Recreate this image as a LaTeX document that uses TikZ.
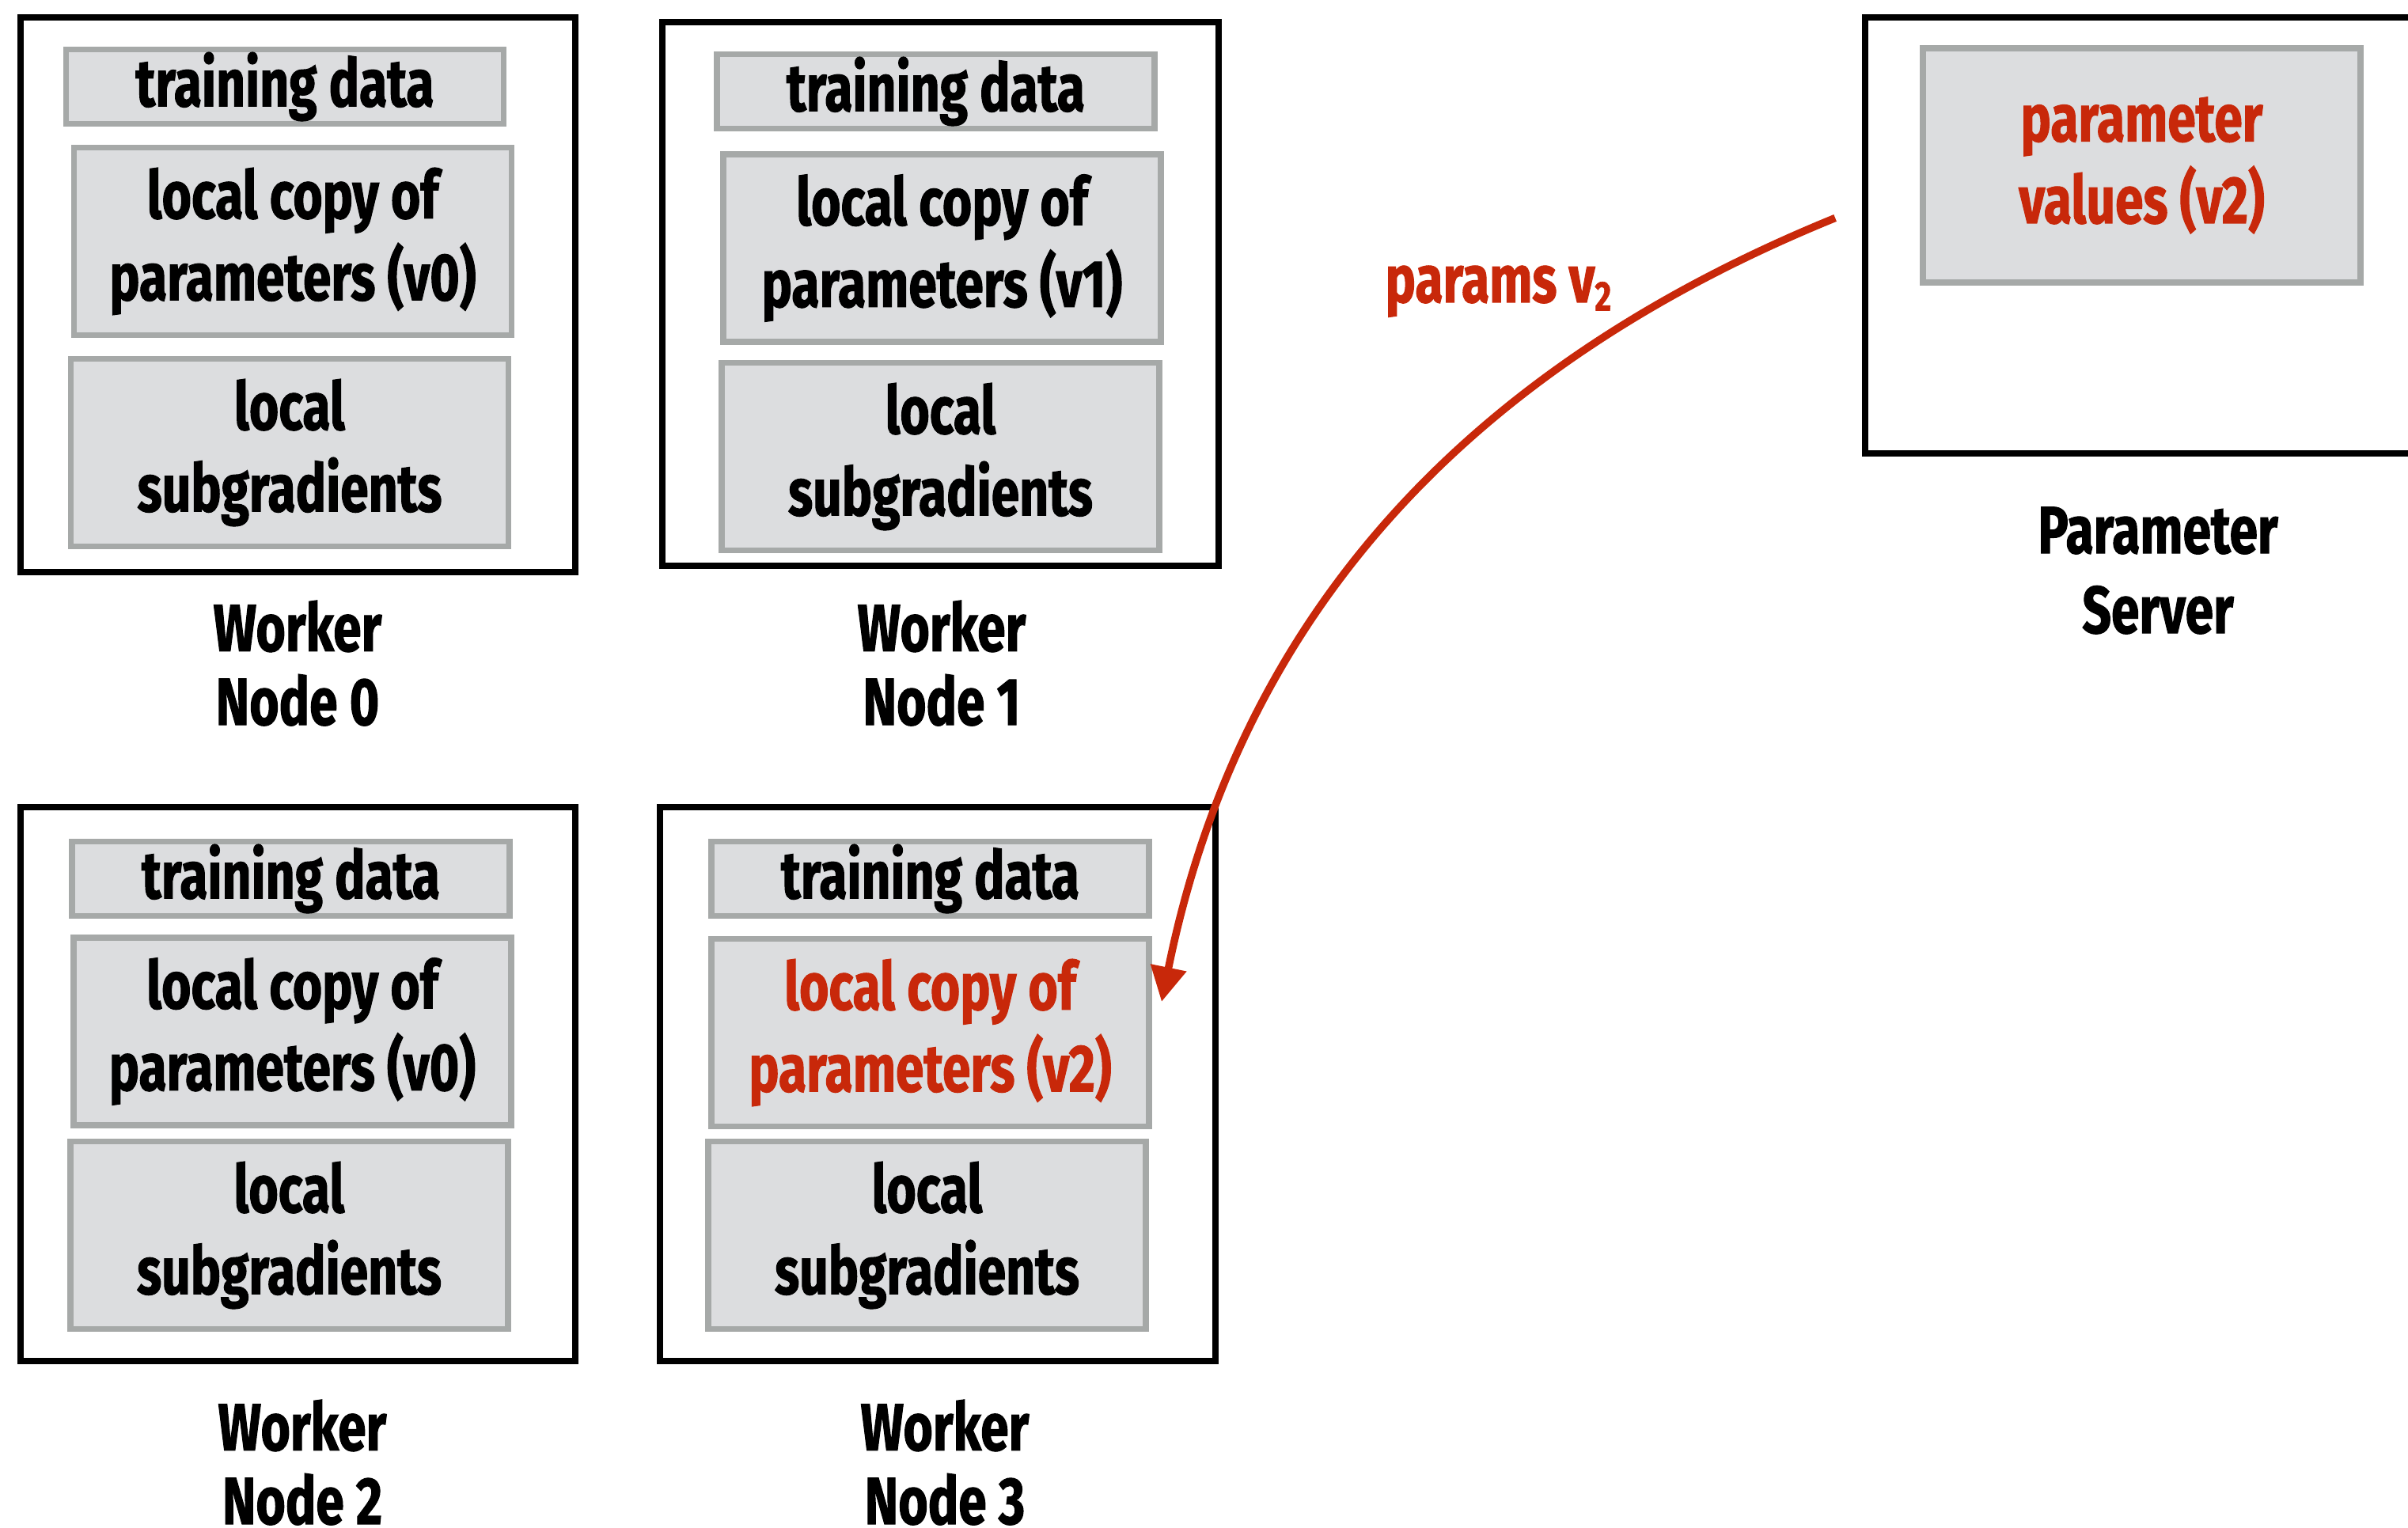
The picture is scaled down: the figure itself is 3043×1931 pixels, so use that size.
\documentclass[tikz,border=0pt]{standalone}
\usepackage{fontspec}
\setmainfont{Fira Sans}[FakeStretch=0.76, BoldFeatures={FakeBold=1.2}]
\usetikzlibrary{arrows.meta}

\definecolor{boxfill}{RGB}{220,221,223}
\definecolor{boxline}{RGB}{166,169,168}
\definecolor{msgred}{RGB}{200,40,10}

\tikzset{
  machine/.style={draw=black, line width=0.078cm, inner sep=0pt},
  inbox/.style={draw=boxline, fill=boxfill, line width=0.075cm, inner sep=0pt,
    minimum width=5.53cm, align=center,
    font=\bfseries\fontsize{24}{29.4}\selectfont},
  databox/.style={inbox, minimum height=0.94cm},
  tallbox/.style={inbox, minimum height=2.37cm},
  caption/.style={align=center, inner sep=0pt, anchor=base,
    font=\bfseries\fontsize{24}{26.5}\selectfont},
  sendline/.style={draw=msgred, line width=0.095cm,
    -{Triangle[length=0.44cm, width=0.44cm]}},
}

\begin{document}
\begin{tikzpicture}[x=0.01cm, y=-0.01cm]
\useasboundingbox (0,0) rectangle (3043,1931);

% worker node 0
\node[machine, minimum width=7.00cm, minimum height=7.00cm] (w0) at (376.5,372.5) {};
\node[databox] (w0td) at (360,109.5) {training data};
\node[tallbox] (w0lc) at (370,305) {local copy of\\parameters (v0)};
\node[tallbox] (w0sg) at (366,572) {local\\subgradients};
\node[caption] (w0cap) at (376,916) {Worker\\Node 0};

% worker node 1
\node[machine, minimum width=7.02cm, minimum height=6.86cm] (w1) at (1188.5,371.5) {};
\node[databox] (w1td) at (1182.5,115.5) {training data};
\node[tallbox] (w1lc) at (1190.5,313.5) {local copy of\\parameters (v1)};
\node[tallbox] (w1sg) at (1188.5,577) {local\\subgradients};
\node[caption] (w1cap) at (1190,916) {Worker\\Node 1};

% worker node 2
\node[machine, minimum width=7.00cm, minimum height=6.99cm] (w2) at (376.5,1370) {};
\node[databox] (w2td) at (367.5,1110.5) {training data};
\node[tallbox] (w2lc) at (369.5,1303.5) {local copy of\\parameters (v0)};
\node[tallbox] (w2sg) at (365.5,1561) {local\\subgradients};
\node[caption] (w2cap) at (382,1926) {Worker\\Node 2};

% worker node 3
\node[machine, minimum width=7.01cm, minimum height=6.99cm] (w3) at (1185,1370) {};
\node[databox] (w3td) at (1175.5,1110.5) {training data};
\node[tallbox, text=msgred] (w3lc) at (1175.5,1305) {local copy of\\parameters (v2)};
\node[tallbox] (w3sg) at (1171.5,1561) {local\\subgradients};
\node[caption] (w3cap) at (1194,1926) {Worker\\Node 3};

% parameter server
\node[machine, minimum width=7.43cm, minimum height=5.50cm] (ps) at (2728.75,297.5) {};
\node[inbox, minimum height=2.96cm, text=msgred] (psv) at (2706.5,209) {parameter\\values (v2)};
\node[caption, font=\bfseries\fontsize{24}{28.7}\selectfont] (pscap) at (2727,800) {Parameter\\Server};

% parameter push to worker 3
\coordinate (src) at ([xshift=-0.34cm, yshift=0.22cm]ps.west);
\draw[sendline] (src) .. controls (1876,456) and (1571,758) .. ([xshift=0.12cm, yshift=0.39cm]w3lc.east);
\node[anchor=base west, inner sep=0pt, text=msgred,
  font=\bfseries\fontsize{24}{28}\selectfont] (msg) at (1750,382)
  {params v\raisebox{-3pt}{\fontsize{15}{15}\selectfont 2}};
\end{tikzpicture}
\end{document}
